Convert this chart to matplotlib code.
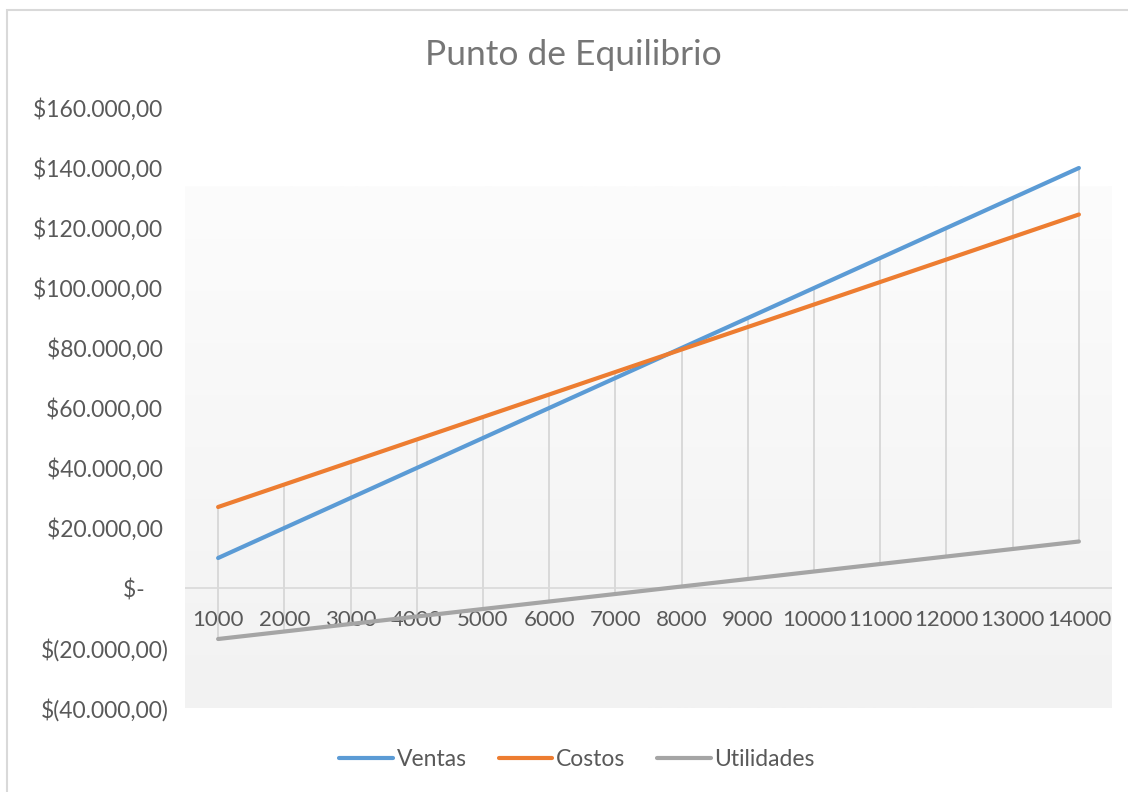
import numpy as np
import matplotlib.pyplot as plt
from matplotlib.patches import Rectangle
from matplotlib.ticker import FuncFormatter

plt.rcParams['font.family'] = ['Lato', 'DejaVu Sans']

unidades = ['1000', '2000', '3000', '4000', '5000', '6000', '7000',
            '8000', '9000', '10000', '11000', '12000', '13000', '14000']
ventas = [10000, 20000, 30000, 40000, 50000, 60000, 70000,
          80000, 90000, 100000, 110000, 120000, 130000, 140000]
costos = [27000, 34500, 42000, 49500, 57000, 64500, 72000,
          79500, 87000, 94500, 102000, 109500, 117000, 124500]
utilidades = [-17000, -14500, -12000, -9500, -7000, -4500, -2000,
              500, 3000, 5500, 8000, 10500, 13000, 15500]

texto = '#595959'
W, H = 1128, 792
fig = plt.figure(figsize=(W / 100, H / 100), dpi=100)
ax = fig.add_axes([185 / W, 1 - 708 / H, (1112 - 185) / W, 600 / H])

x = np.arange(len(unidades))
ax.set_xlim(-0.5, len(unidades) - 0.5)
ax.set_ylim(-40000, 160000)

# fondo degradado del área de trazado
grad = np.linspace(0, 1, 256).reshape(-1, 1)
cmap = plt.matplotlib.colors.LinearSegmentedColormap.from_list('fondo', ['#f2f2f2', '#fcfcfc'])
ax.imshow(grad, extent=[-0.5, len(unidades) - 0.5, -40000, 134000], origin='lower',
          aspect='auto', cmap=cmap, zorder=0)

# líneas de máximos y mínimos
altos = np.max([ventas, costos, utilidades], axis=0)
bajos = np.min([ventas, costos, utilidades], axis=0)
ax.vlines(x, bajos, altos, color='#d9d9d9', lw=1.4, zorder=1)
ax.axhline(0, color='#d9d9d9', lw=1.2, zorder=1)

ax.plot(x, ventas, color='#5b9bd5', lw=3, solid_capstyle='round', label='Ventas', zorder=3)
ax.plot(x, costos, color='#ed7d31', lw=3, solid_capstyle='round', label='Costos', zorder=3)
ax.plot(x, utilidades, color='#a5a5a5', lw=3, solid_capstyle='round', label='Utilidades', zorder=3)


def moneda(v, pos):
    if v == 0:
        return '$-    '
    s = '{:,.2f}'.format(abs(v)).replace(',', 'X').replace('.', ',').replace('X', '.')
    return '$(' + s + ')' if v < 0 else '$' + s + ' '


ax.set_yticks(np.arange(-40000, 160001, 20000))
ax.yaxis.set_major_formatter(FuncFormatter(moneda))
ax.set_xticks(x)
ax.set_xticklabels(unidades)
ax.spines['bottom'].set_position(('data', 0))
for s in ax.spines.values():
    s.set_visible(False)
ax.tick_params(axis='both', length=0, labelsize=16.5, labelcolor=texto)
ax.tick_params(axis='x', pad=16, labelsize=16)
ax.tick_params(axis='y', pad=12)

fig.text(573 / W, 1 - 55 / H, 'Punto de Equilibrio', ha='center', va='center',
         fontsize=25.5, color='#767676')

fig.legend(loc='center', bbox_to_anchor=(577 / W, 1 - 760 / H), ncol=3, frameon=False,
           fontsize=16.5, labelcolor=texto, handlelength=2.35, handletextpad=0.15,
           columnspacing=1.4)

# borde del gráfico
fig.add_artist(Rectangle((7 / W, -0.02), 1.02, 1.02 - 10 / H, transform=fig.transFigure,
                         fill=False, edgecolor='#d9d9d9', lw=1.5))

fig.savefig('out.png', dpi=100)
